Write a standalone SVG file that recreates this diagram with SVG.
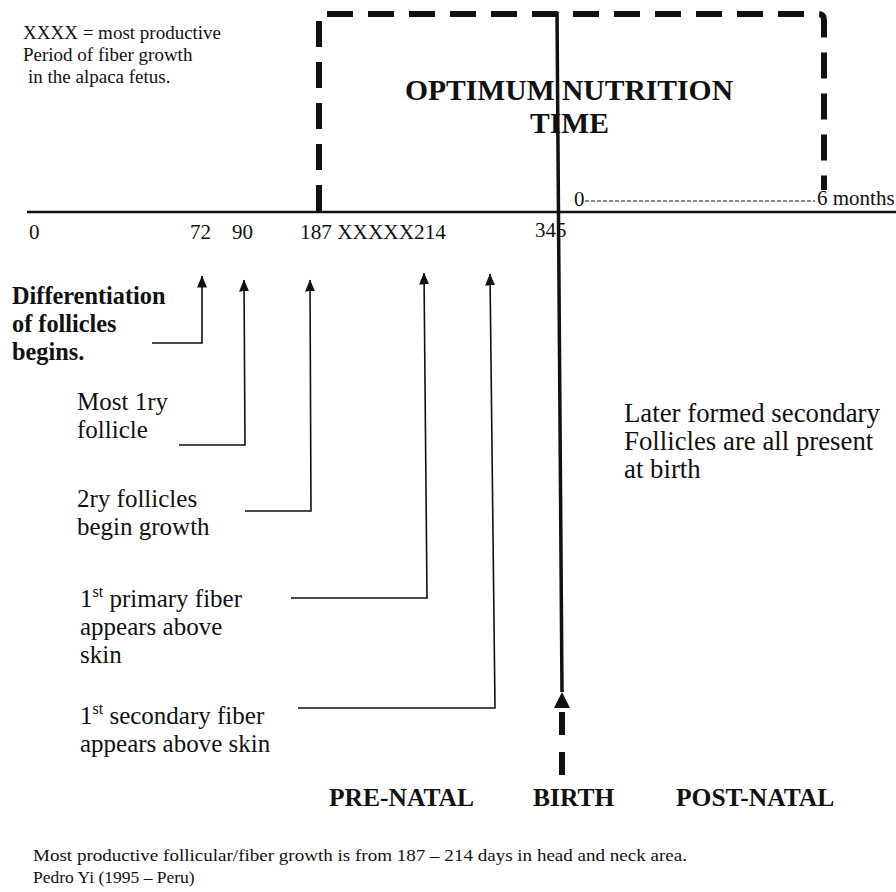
<svg xmlns="http://www.w3.org/2000/svg" width="896" height="892" viewBox="0 0 896 892">
<style>
text{font-family:"Liberation Serif","Times New Roman",serif;fill:#111}
.t{font-size:25px}
.b{font-weight:bold;font-size:24.3px}
.p{font-weight:bold;font-size:25.5px}
.n{font-size:21px}
.s{font-size:19px}
.f{font-size:17.5px}
.ln{stroke:#111;fill:none}
.ar{stroke:#111;stroke-width:1.6;fill:none}
</style>
<defs>
<marker id="ah" viewBox="0 0 12 10" refX="11.5" refY="5" markerWidth="12" markerHeight="10" markerUnits="userSpaceOnUse" orient="auto">
<path d="M0,0 L12,5 L0,10 Z" fill="#111"/>
</marker>
</defs>
<rect width="896" height="892" fill="#fff"/>

<g id="legend">
<text class="s" x="23" y="39">XXXX = most productive</text>
<text class="s" x="23" y="61">Period of fiber growth</text>
<text class="s" x="28" y="83">in the alpaca fetus.</text>
</g>

<g id="optimum-box">
<path class="ln" d="M319,211 L319,14 L818,14 Q824,14 824,20 L824,190" stroke-width="6" stroke-dasharray="26 15"/>
<text x="405" y="100" style="font-size:29.6px;font-weight:bold">OPTIMUM NUTRITION</text>
<text x="530" y="133" style="font-size:29.6px;font-weight:bold">TIME</text>
</g>

<g id="timeline">
<line class="ln" x1="27" y1="212" x2="896" y2="212" stroke-width="2.5"/>
<text class="n" x="29" y="239">0</text>
<text class="n" x="190" y="239">72</text>
<text class="n" x="232" y="239">90</text>
<text class="n" x="300" y="239" textLength="146" lengthAdjust="spacingAndGlyphs">187 XXXXX214</text>
<text class="n" x="535" y="237">345</text>
<text class="n" x="574" y="206">0</text>
<line class="ln" x1="585" y1="201" x2="815" y2="201" stroke-width="1.2" stroke-dasharray="4 2"/>
<text class="n" x="817" y="205">6 months</text>
</g>

<g id="birth-line">
<line class="ln" x1="557" y1="12" x2="562" y2="692" stroke-width="3.5"/>
<polygon points="562,692 554,708 570,708" fill="#111"/>
<line class="ln" x1="562" y1="712" x2="562" y2="735" stroke-width="6"/>
<line class="ln" x1="562" y1="752" x2="562" y2="775" stroke-width="6"/>
</g>

<g id="connectors">
<polyline class="ar" points="152,343 202,343 202,276" marker-end="url(#ah)"/>
<polyline class="ar" points="179,445 245,445 244,280" marker-end="url(#ah)"/>
<polyline class="ar" points="245,511 311,511 310,280" marker-end="url(#ah)"/>
<polyline class="ar" points="291,598 427,598 424,273" marker-end="url(#ah)"/>
<polyline class="ar" points="298,708 495,708 490,274" marker-end="url(#ah)"/>
</g>

<g id="node-differentiation">
<text class="b" x="12" y="304">Differentiation</text>
<text class="b" x="12" y="332">of follicles</text>
<text class="b" x="12" y="360">begins.</text>
</g>

<g id="node-most-1ry">
<text class="t" x="77" y="410">Most 1ry</text>
<text class="t" x="77" y="438">follicle</text>
</g>

<g id="node-2ry">
<text class="t" x="77" y="507">2ry follicles</text>
<text class="t" x="77" y="535">begin growth</text>
</g>

<g id="node-primary-fiber">
<text class="t" x="80" y="607">1<tspan dy="-10" style="font-size:16px">st</tspan><tspan dy="10"> primary fiber</tspan></text>
<text class="t" x="80" y="635">appears above</text>
<text class="t" x="80" y="663">skin</text>
</g>

<g id="node-secondary-fiber">
<text class="t" x="80" y="724">1<tspan dy="-10" style="font-size:16px">st</tspan><tspan dy="10"> secondary fiber</tspan></text>
<text class="t" x="80" y="752">appears above skin</text>
</g>

<g id="node-later">
<text class="t" x="624" y="422" style="font-size:26.8px">Later formed secondary</text>
<text class="t" x="624" y="450" style="font-size:26.8px">Follicles are all present</text>
<text class="t" x="624" y="478" style="font-size:26.8px">at birth</text>
</g>

<g id="phases">
<text class="p" x="329" y="806">PRE-NATAL</text>
<text class="p" x="533" y="806">BIRTH</text>
<text class="p" x="676" y="806">POST-NATAL</text>
</g>

<g id="footer">
<text class="f" x="33" y="861" textLength="654" lengthAdjust="spacingAndGlyphs">Most productive follicular/fiber growth is from 187 – 214 days in head and neck area.</text>
<text class="f" x="33" y="883">Pedro Yi (1995 – Peru)</text>
</g>
</svg>
